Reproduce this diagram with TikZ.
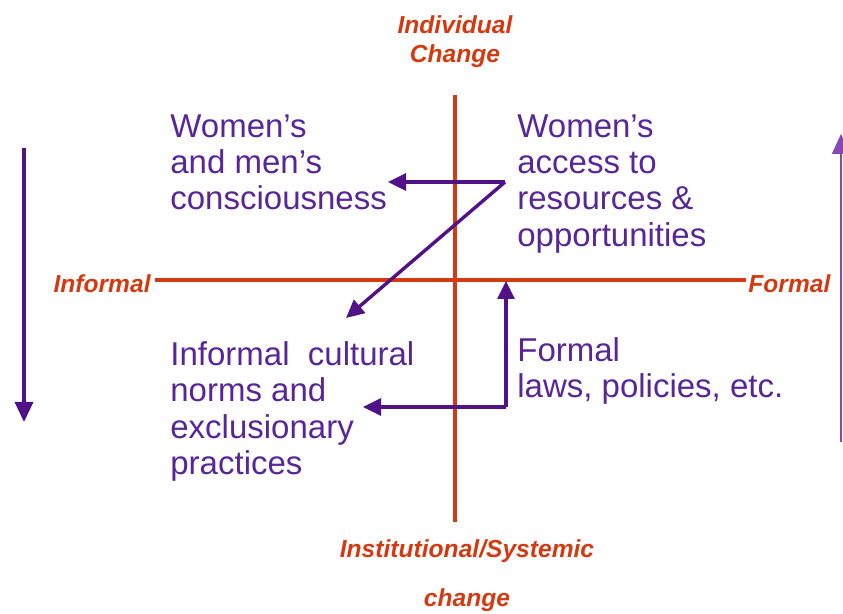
\documentclass[tikz,border=0pt]{standalone}
\usepackage{fontspec}
\setmainfont{Liberation Sans}
\usetikzlibrary{arrows.meta,positioning}

\definecolor{axisred}{RGB}{212,58,18}
\definecolor{textpurple}{RGB}{88,38,150}
\definecolor{arrowpurple}{RGB}{82,18,135}
\definecolor{sidepurple}{RGB}{135,70,185}

\begin{document}
\begin{tikzpicture}[
    x=0.5pt, y=-0.5pt,
    axis/.style={draw=axisred, line width=1.6pt},
    axislabel/.style={text=axisred, font=\fontsize{12.3}{14.5}\selectfont\bfseries\itshape, inner sep=0pt, align=center},
    quadrant/.style={text=textpurple, font=\fontsize{16.5}{18.2}\selectfont, align=left, anchor=north west, inner sep=0pt},
    shiftarrow/.style={-{Triangle[length=9pt, width=8.5pt]}, line width=1.7pt, draw=arrowpurple},
    sidearrow/.style={-{Triangle[length=10pt, width=9pt]}, line width=1.7pt, draw=#1},
]
    \useasboundingbox (0,0) rectangle (843,614);

    % axis labels
    \node[axislabel] (indiv) at (455,42) {Individual\\Change};
    \node[axislabel] (instit) at (467,576) {Institutional/Systemic\\[10pt]change};
    \node[axislabel, anchor=east] (informal) at (151,284) {Informal};
    \node[axislabel, anchor=west] (formal) at (748,284) {Formal};

    % axes
    \coordinate (vtop) at (455,95);
    \coordinate (vbot) at (455,522);
    \draw[axis] (vtop) -- (vbot);
    \draw[axis] ([xshift=2pt]informal.east |- 0,280) -- ([xshift=-1pt]formal.west |- 0,280);

    % quadrants
    \node[quadrant] (consc) at (170,114) {Women's\\and men's\\consciousness};
    \node[quadrant] (access) at (517,114) {Women's\\access to\\resources \&\\opportunities};
    \node[quadrant] (norms) at (170,341) {Informal\ \ cultural\\norms and\\exclusionary\\practices};
    \node[quadrant] (laws) at (517,337) {Formal\\laws, policies, etc.};

    % arrows between quadrants
    \coordinate (turn1) at (505,182);
    \coordinate (tip1) at (388,182);
    \coordinate (tip2) at (346,318);
    \draw[shiftarrow] (turn1) -- (tip1);
    \draw[shiftarrow] (turn1) -- (tip2);

    \coordinate (turn2) at (506,407);
    \coordinate (tip3) at (506,281);
    \coordinate (tip4) at (363,407);
    \draw[shiftarrow] (turn2) -- (tip3);
    \draw[shiftarrow] (turn2) -- (tip4);

    % side arrows
    \coordinate (ltop) at (24,148);
    \coordinate (lbot) at (24,422);
    \draw[sidearrow=arrowpurple] (ltop) -- (lbot);
    \coordinate (rbot) at (841,442);
    \coordinate (rtop) at (841,134);
    \draw[sidearrow=sidepurple, line width=0.9pt] (rbot) -- (rtop);
\end{tikzpicture}
\end{document}
